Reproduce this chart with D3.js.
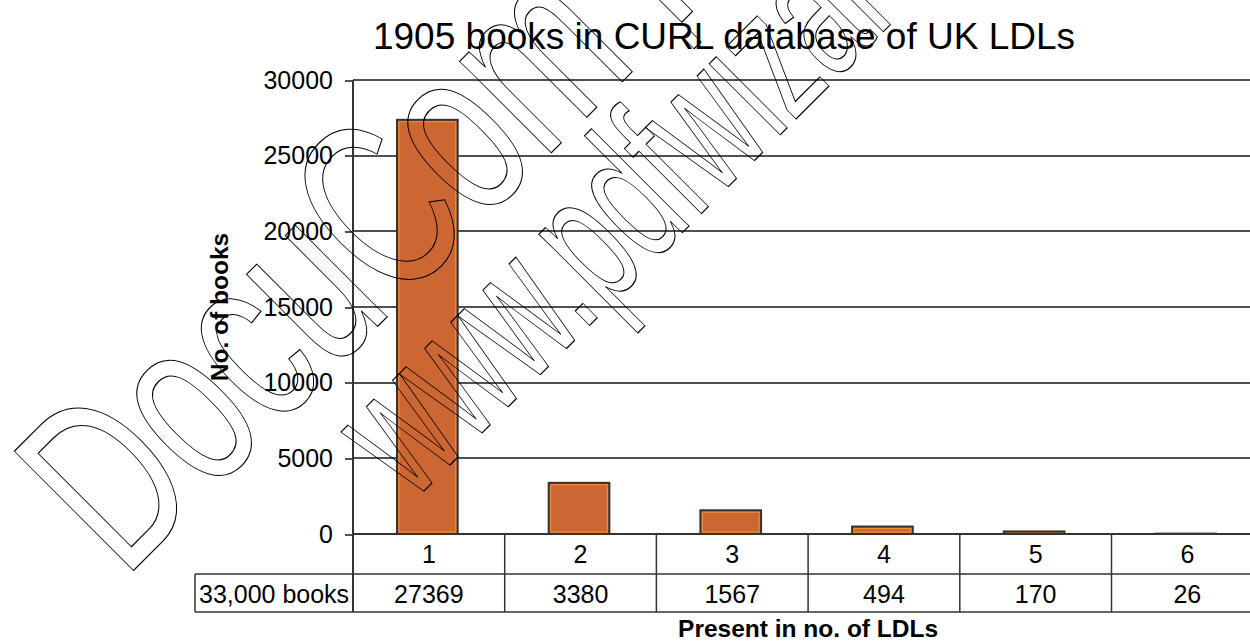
<!DOCTYPE html>
<html>
<head>
<meta charset="utf-8">
<script src="https://cdn.jsdelivr.net/npm/d3@7"></script>
<style>
    body { margin: 0; background: #fff; }
    svg { display: block; font-family: "Liberation Sans", Arial, sans-serif; }
    .grid-line { stroke: #505050; stroke-width: 2; shape-rendering: crispEdges; }
    .table-line { stroke: #333; stroke-width: 1.5; fill: none; }
</style>
</head>
<body>
<script>
// values
var categories = ["1", "2", "3", "4", "5", "6"];
var bookCounts = [27369, 3380, 1567, 494, 170, 26];
var yTicks = [0, 5000, 10000, 15000, 20000, 25000, 30000];
var rowLabel = "33,000 books";
var chartTitle = "1905 books in CURL database of UK LDLs";
var yTitle = "No. of books";
var xTitle = "Present in no. of LDLs";
var watermarkLines = ["DocuCom PDF Trial", "www.pdfwizard.com"];

function barChart() {
    var _chart = {};

    var _width = 1250, _height = 642,
        _plot = {left: 353, top: 80, bottom: 534, bandWidth: 151.7},
        _rowHeights = [40, 38],
        _x, _y, _svg;

    _chart.render = function () {
        _svg = d3.select("body").append("svg")
            .attr("width", _width)
            .attr("height", _height);

        _x = d3.scaleBand()
            .domain(categories)
            .range([_plot.left, _plot.left + _plot.bandWidth * categories.length]);
        _y = d3.scaleLinear()
            .domain([0, 30000])
            .range([_plot.bottom, _plot.top]);

        renderTitle();
        renderYAxis();
        renderBars();
        renderTable();
        renderWatermark();
    };

    function renderTitle() {
        _svg.append("text")
            .attr("x", 724)
            .attr("y", 49)
            .attr("text-anchor", "middle")
            .attr("font-size", "37px")
            .attr("fill", "#000")
            .text(chartTitle);

        _svg.append("text")
            .attr("transform", "translate(228," + 307 + ") rotate(-90)")
            .attr("text-anchor", "middle")
            .attr("font-size", "24.5px")
            .attr("font-weight", "bold")
            .text(yTitle);

        _svg.append("text")
            .attr("x", _x.range()[0] + (_x.range()[1] - _x.range()[0]) / 2)
            .attr("y", 637)
            .attr("text-anchor", "middle")
            .attr("font-size", "24.5px")
            .attr("font-weight", "bold")
            .text(xTitle);
    }

    function renderYAxis() {
        var yAxis = d3.axisLeft(_y)
            .tickValues(yTicks)
            .tickSize(8)
            .tickPadding(12)
            .tickFormat(d3.format("d"));

        var g = _svg.append("g")
            .attr("class", "y axis")
            .attr("transform", "translate(" + _plot.left + ",0)")
            .call(yAxis);

        g.select(".domain").remove();
        g.selectAll(".tick line").classed("grid-line", true);
        g.selectAll(".tick text")
            .attr("font-size", "25px")
            .attr("font-family", "Liberation Sans, Arial, sans-serif")
            .attr("fill", "#000");

        // grid lines across the plot
        _svg.append("g")
            .selectAll("line")
            .data(yTicks.slice(1))
            .enter().append("line")
            .attr("class", "grid-line")
            .attr("x1", _plot.left)
            .attr("x2", _width)
            .attr("y1", function (d) { return Math.round(_y(d)); })
            .attr("y2", function (d) { return Math.round(_y(d)); });

        // axis line down through the table
        _svg.append("line")
            .attr("class", "table-line")
            .attr("x1", _plot.left).attr("x2", _plot.left)
            .attr("y1", _plot.top)
            .attr("y2", _plot.bottom + _rowHeights[0] + _rowHeights[1])
            .style("stroke-width", 2);
    }

    function renderBars() {
        var bw = _x.bandwidth() * 0.4,
            off = _x.bandwidth() * 0.29;

        var bars = _svg.append("g").attr("class", "bars")
            .selectAll("g")
            .data(bookCounts)
            .enter().append("g");

        bars.append("rect")
            .attr("x", function (d, i) { return _x(categories[i]) + off; })
            .attr("y", function (d) { return _y(d); })
            .attr("width", bw)
            .attr("height", function (d) { return _plot.bottom - _y(d); })
            .attr("fill", "#CC6633")
            .attr("stroke", "#333")
            .attr("stroke-width", 2);

        // thin lighter rim inside each bar
        bars.filter(function (d) { return _plot.bottom - _y(d) > 4; })
            .append("rect")
            .attr("x", function (d, i) { return _x(categories[i]) + off + 2; })
            .attr("y", function (d) { return _y(d) + 2; })
            .attr("width", bw - 4)
            .attr("height", function (d) { return _plot.bottom - _y(d) - 4; })
            .attr("fill", "none")
            .attr("stroke", "#EE9433")
            .attr("stroke-width", 1);
    }

    function renderTable() {
        var g = _svg.append("g").attr("class", "table");
        var top = _plot.bottom,
            mid = top + _rowHeights[0],
            bot = mid + _rowHeights[1],
            left = _plot.left;

        g.append("line").attr("class", "table-line")
            .attr("x1", left).attr("x2", _width).attr("y1", top).attr("y2", top)
            .style("stroke-width", 2);
        g.append("line").attr("class", "table-line")
            .attr("x1", 195).attr("x2", _width).attr("y1", mid).attr("y2", mid);
        g.append("line").attr("class", "table-line")
            .attr("x1", 195).attr("x2", _width).attr("y1", bot).attr("y2", bot);
        g.append("line").attr("class", "table-line")
            .attr("x1", 195).attr("x2", 195).attr("y1", mid).attr("y2", bot);

        g.selectAll("line.sep")
            .data(categories.slice(1))
            .enter().append("line")
            .attr("class", "table-line sep")
            .attr("x1", function (d) { return _x(d); })
            .attr("x2", function (d) { return _x(d); })
            .attr("y1", top).attr("y2", bot);

        g.selectAll("text.cat")
            .data(categories)
            .enter().append("text")
            .attr("class", "cat")
            .attr("x", function (d) { return _x(d) + _x.bandwidth() / 2; })
            .attr("y", top + 29)
            .attr("text-anchor", "middle")
            .attr("font-size", "25px")
            .text(function (d) { return d; });

        g.selectAll("text.val")
            .data(bookCounts)
            .enter().append("text")
            .attr("class", "val")
            .attr("x", function (d, i) { return _x(categories[i]) + _x.bandwidth() / 2; })
            .attr("y", mid + 29)
            .attr("text-anchor", "middle")
            .attr("font-size", "25px")
            .text(function (d) { return d; });

        g.append("text")
            .attr("x", 199)
            .attr("y", mid + 29)
            .attr("font-size", "25px")
            .text(rowLabel);
    }

    // outlined diagonal stamp seen on the scanned page
    function renderWatermark() {
        var spec = [
            {x: 124, y: 580, size: 245, sx: 0.67},
            {x: 412, y: 503, size: 190, sx: 0.6}
        ];
        _svg.append("g").attr("class", "watermark")
            .selectAll("text")
            .data(watermarkLines)
            .enter().append("text")
            .attr("transform", function (d, i) {
                var s = spec[i];
                return "translate(" + s.x + "," + s.y + ") rotate(-45) scale(" + s.sx + ",1)";
            })
            .attr("font-size", function (d, i) { return spec[i].size + "px"; })
            .attr("fill", "none")
            .attr("stroke", "#000")
            .attr("stroke-width", 1)
            .attr("vector-effect", "non-scaling-stroke")
            .text(function (d) { return d; });
    }

    return _chart;
}

barChart().render();
</script>
</body>
</html>
